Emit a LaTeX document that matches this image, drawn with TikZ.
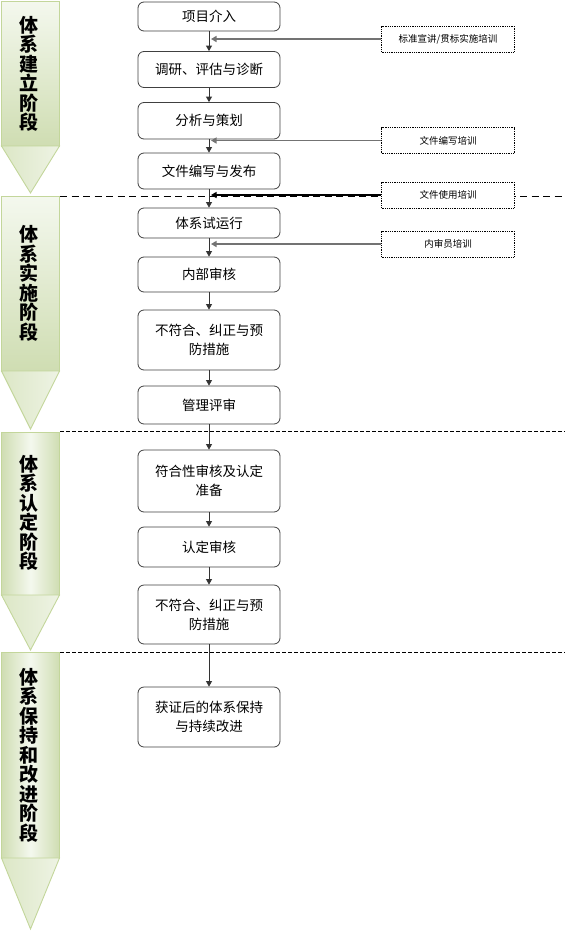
\documentclass[tikz,border=0pt]{standalone}
\usepackage{fontspec}
\setmainfont{Noto Sans CJK SC}
\usepackage{tikz}
\usetikzlibrary{positioning, arrows.meta, calc}

\definecolor{barline}{HTML}{C3D69B}
\definecolor{bardark}{HTML}{CFDDB2}
\definecolor{barlight}{HTML}{F4F8EE}
\definecolor{tipdark}{HTML}{DCE7C6}
\definecolor{tiplight}{HTML}{EEF3E4}

\begin{document}
\begin{tikzpicture}[x=1pt, y=-1pt, >={Triangle[width=6pt,length=5.5pt]},
  stepbox/.style={draw=black!75, rounded corners=6pt, line width=0.8pt, fill=white,
    minimum width=142pt, inner sep=2pt, align=center,
    font=\fontsize{13.5}{19}\selectfont},
  trainbox/.style={draw=black, dash pattern=on 0.9pt off 0.9pt, line width=0.9pt, fill=white,
    minimum width=133pt, minimum height=26pt, inner sep=1pt,
    font=\fontsize{9.5}{11}\selectfont},
  flow/.style={draw=black!80, line width=0.8pt, ->},
  feed/.style={draw=black!55, line width=1.3pt, ->, shorten >=2pt},
  sepline/.style={draw=black, line width=0.6pt, dash pattern=on 3.5pt off 2.5pt},
  barrect/.style={draw=barline, line width=0.9pt, top color=barlight, bottom color=bardark},
  barrect2/.style={draw=barline, line width=0.9pt, left color=bardark, right color=bardark, middle color=barlight},
  bartip/.style={draw=barline, line width=0.9pt, left color=tipdark, right color=tiplight},
  bartext/.style={align=center, inner sep=0pt, font=\fontsize{19}{19.5}\selectfont\bfseries}]
  \useasboundingbox (0,0) rectangle (565,932);

  % phase bars
  \path[barrect] (1.5,1) rectangle (59.5,146);
  \path[bartip] (1.5,146) -- (59.5,146) -- (30.5,193) -- cycle;
  \node[bartext] (ph1) at (29,74) {体\\系\\建\\立\\阶\\段};

  \path[barrect] (1.5,196) rectangle (59.5,371);
  \path[bartip] (1.5,371) -- (59.5,371) -- (30.5,429) -- cycle;
  \node[bartext] (ph2) at (29,283.5) {体\\系\\实\\施\\阶\\段};

  \path[barrect2] (1.5,432) rectangle (59.5,595);
  \path[bartip] (1.5,595) -- (59.5,595) -- (30.5,650) -- cycle;
  \node[bartext] (ph3) at (29,513) {体\\系\\认\\定\\阶\\段};

  \path[barrect2] (1.5,652) rectangle (59.5,858);
  \path[bartip] (1.5,858) -- (59.5,858) -- (30.5,929) -- cycle;
  \node[bartext] (ph4) at (29,755) {体\\系\\保\\持\\和\\改\\进\\阶\\段};

  % phase borders
  \draw[sepline, line width=0.9pt, dash pattern=on 7pt off 4.5pt] (60,196) -- (565,196);
  \draw[sepline] (60,431) -- (565,431);
  \draw[sepline] (60,652.5) -- (565,652.5);

  % main steps
  \node[stepbox, minimum height=29pt] (n1) at (209,16.5) {项目介入};
  \node[stepbox, minimum height=36pt] (n2) at (209,69.5) {调研、评估与诊断};
  \node[stepbox, minimum height=36.5pt] (n3) at (209,120.75) {分析与策划};
  \node[stepbox, minimum height=36pt] (n4) at (209,171) {文件编写与发布};
  \node[stepbox, minimum height=30pt] (n5) at (209,223) {体系试运行};
  \node[stepbox, minimum height=35pt] (n6) at (209,274.5) {内部审核};
  \node[stepbox, minimum height=60pt] (n7) at (209,340) {不符合、纠正与预\\防措施};
  \node[stepbox, minimum height=38pt] (n8) at (209,405) {管理评审};
  \node[stepbox, minimum height=62pt] (n9) at (209,481) {符合性审核及认定\\准备};
  \node[stepbox, minimum height=40pt] (n10) at (209,547) {认定审核};
  \node[stepbox, minimum height=59pt] (n11) at (209,614.5) {不符合、纠正与预\\防措施};
  \node[stepbox, minimum height=60pt] (n12) at (209,717) {获证后的体系保持\\与持续改进};

  % trainings
  \node[trainbox] (t1) at (448,39) {标准宣讲/贯标实施培训};
  \node[trainbox] (t2) at (448,140.5) {文件编写培训};
  \node[trainbox] (t3) at (448,195) {文件使用培训};
  \node[trainbox] (t4) at (448,244) {内审员培训};

  \draw[flow] (n1) -- (n2);
  \draw[flow] (n2) -- (n3);
  \draw[flow] (n3) -- (n4);
  \draw[flow] (n4) -- (n5);
  \draw[flow] (n5) -- (n6);
  \draw[flow] (n6) -- (n7);
  \draw[flow] (n7) -- (n8);
  \draw[flow] (n8) -- (n9);
  \draw[flow] (n9) -- (n10);
  \draw[flow] (n10) -- (n11);
  \draw[flow] (n11) -- (n12);

  \draw[feed] (t1.west) -- (t1.west -| n1.south);
  \draw[feed] (t2.west) -- (t2.west -| n3.south);
  \draw[feed, draw=black] (t3.west) -- (t3.west -| n4.south);
  \draw[feed] (t4.west) -- (t4.west -| n5.south);
\end{tikzpicture}
\end{document}
